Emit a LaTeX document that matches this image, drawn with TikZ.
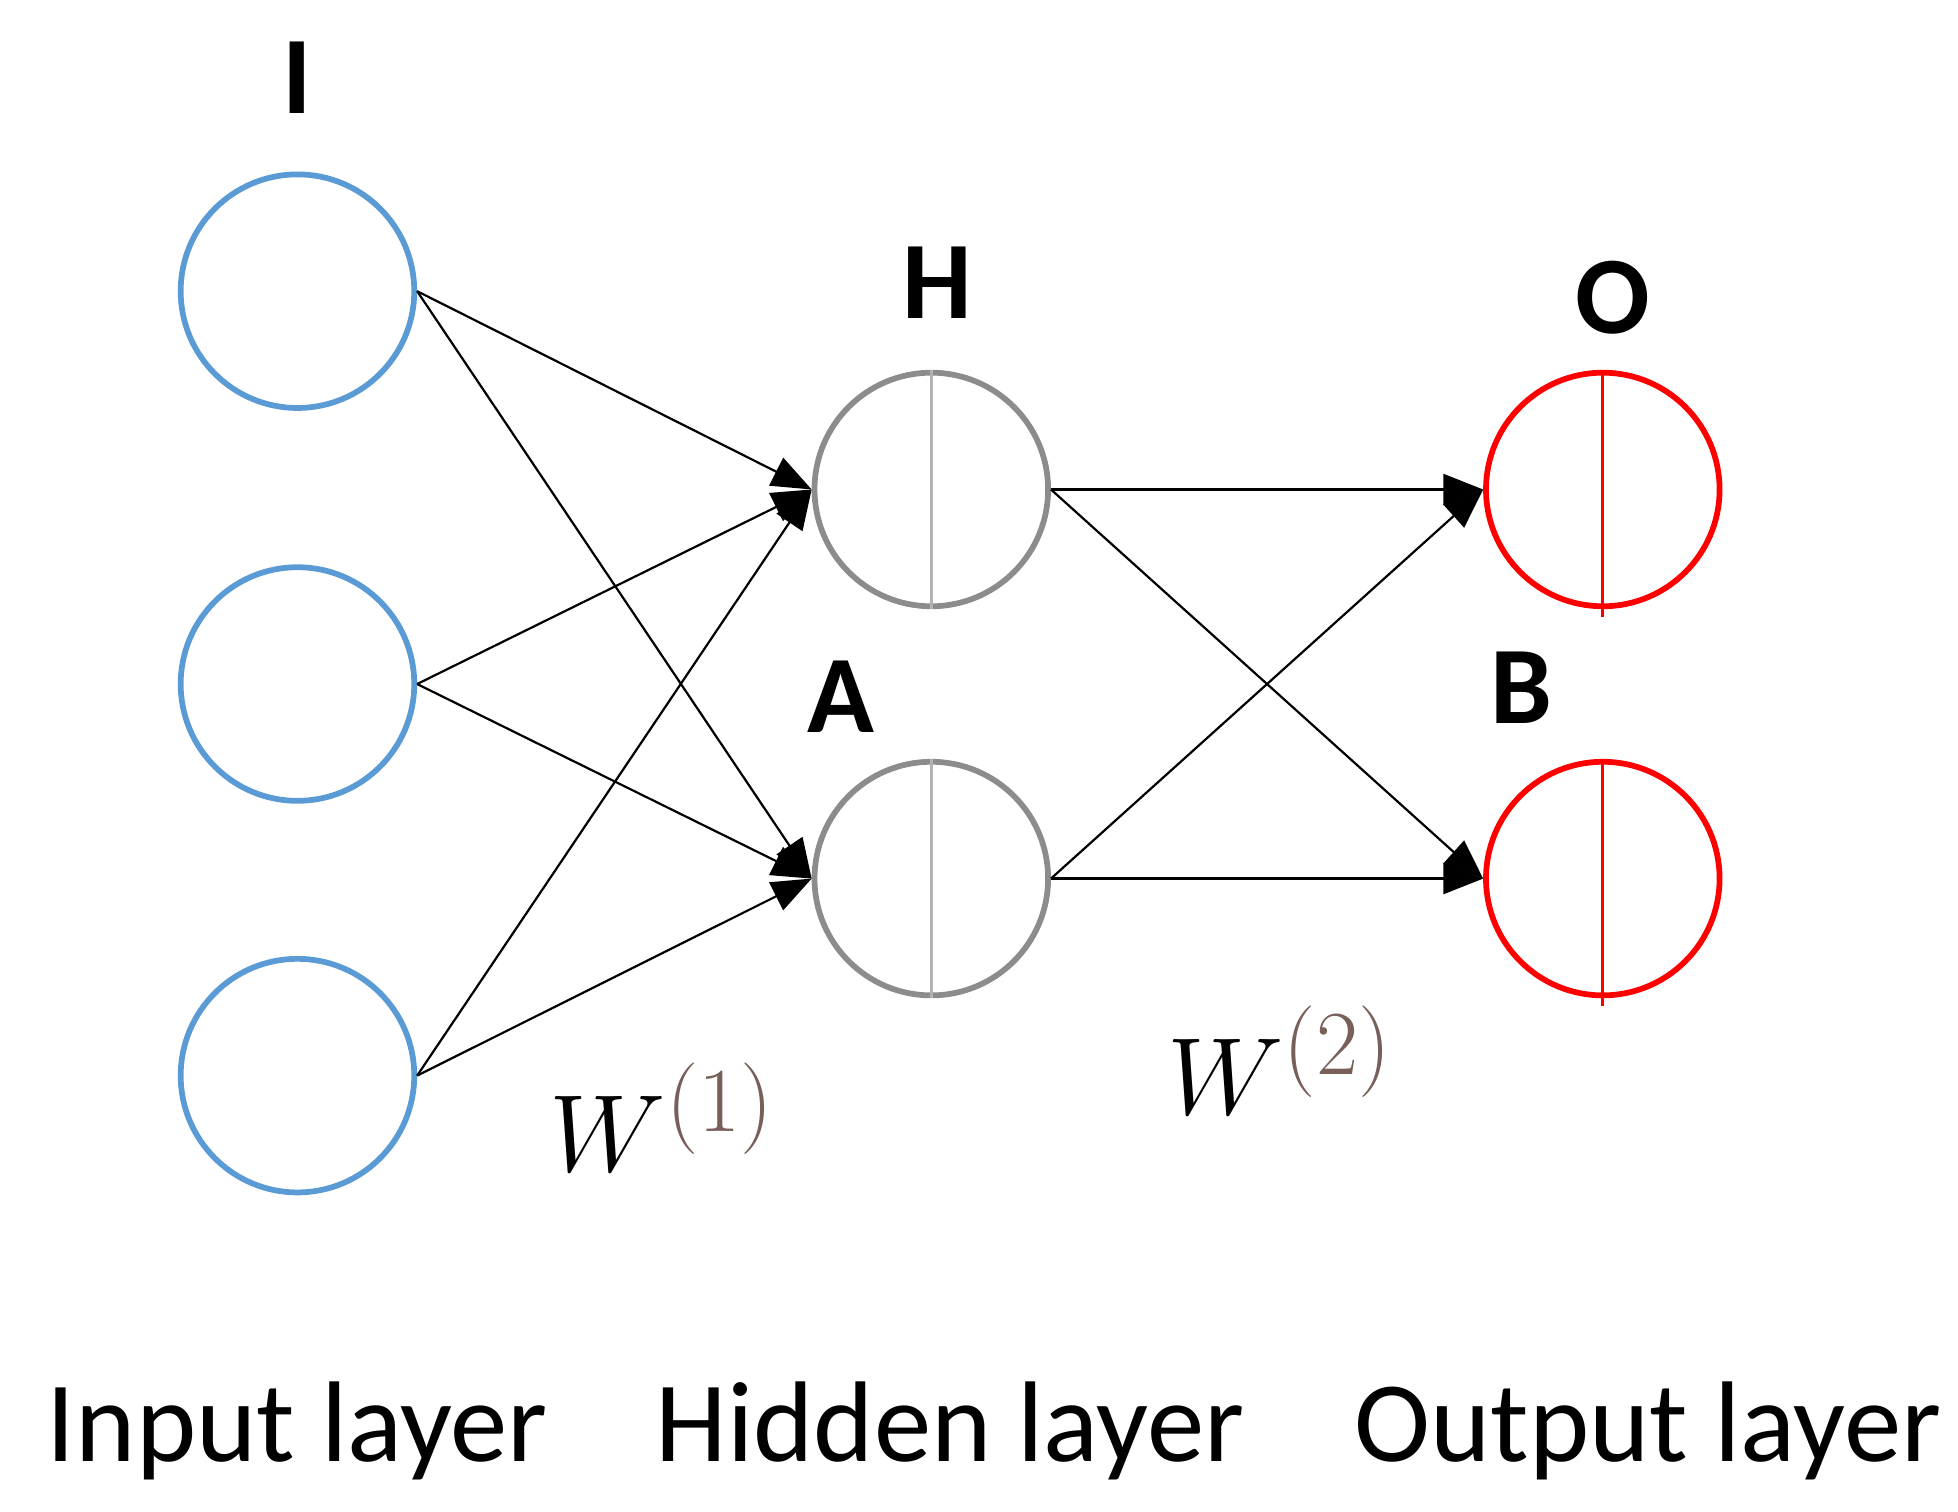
\documentclass[tikz,border=0pt]{standalone}
\usepackage{fontspec}
\setmainfont{Carlito}
\usetikzlibrary{arrows.meta}
\definecolor{inblue}{RGB}{91,155,213}
\definecolor{wbrown}{RGB}{120,95,90}
\begin{document}
\begin{tikzpicture}[x=0.01cm,y=-0.01cm,
  neuron/.style={circle,minimum size=1.86cm,inner sep=0pt,line width=1.3pt},
  inn/.style={neuron,draw=inblue},
  hid/.style={neuron,draw=gray!90},
  outn/.style={neuron,draw=red},
  conn/.style={-{Triangle[length=9pt,width=7pt]},line width=0.5pt},
  lbl/.style={font=\fontsize{25}{25}\selectfont\bfseries},
  laycap/.style={font=\fontsize{26}{26}\selectfont}]
\useasboundingbox (0,0) rectangle (1560,1204);
\node[inn] (i1) at (237,232) {};
\node[inn] (i2) at (237,545) {};
\node[inn] (i3) at (237,857) {};
\node[hid] (h1) at (742,390) {};
\node[hid] (h2) at (742,700) {};
\node[outn] (o1) at (1277,390) {};
\node[outn] (o2) at (1277,700) {};
\draw[gray!60,line width=0.7pt] (h1.north) -- (h1.south);
\draw[gray!60,line width=0.7pt] (h2.north) -- (h2.south);
\draw[red,line width=0.7pt] (o1.north) -- ([yshift=-0.06cm]o1.south);
\draw[red,line width=0.7pt] (o2.north) -- ([yshift=-0.06cm]o2.south);
\foreach \a in {i1,i2,i3}{\foreach \b in {h1,h2}{\draw[conn] (\a.east) -- (\b.west);}}
\foreach \a in {h1,h2}{\foreach \b in {o1,o2}{\draw[conn] (\a.east) -- (\b.west);}}
\node[lbl] (lI) at (237,62) {I};
\node[lbl] (lH) at (747,225) {H};
\node[lbl] (lA) at (670,555) {A};
\node[lbl] (lO) at (1285,237) {O};
\node[lbl] (lB) at (1212,548) {B};
\node[font=\fontsize{30}{30}\selectfont] (w1) at (528,890) {$W^{\color{wbrown}(1)}$};
\node[font=\fontsize{30}{30}\selectfont] (w2) at (1020,845) {$W^{\color{wbrown}(2)}$};
\node[laycap] (c1) at (237,1140) {Input layer};
\node[laycap] (c2) at (757,1140) {Hidden layer};
\node[laycap] (c3) at (1313,1140) {Output layer};
\end{tikzpicture}
\end{document}
